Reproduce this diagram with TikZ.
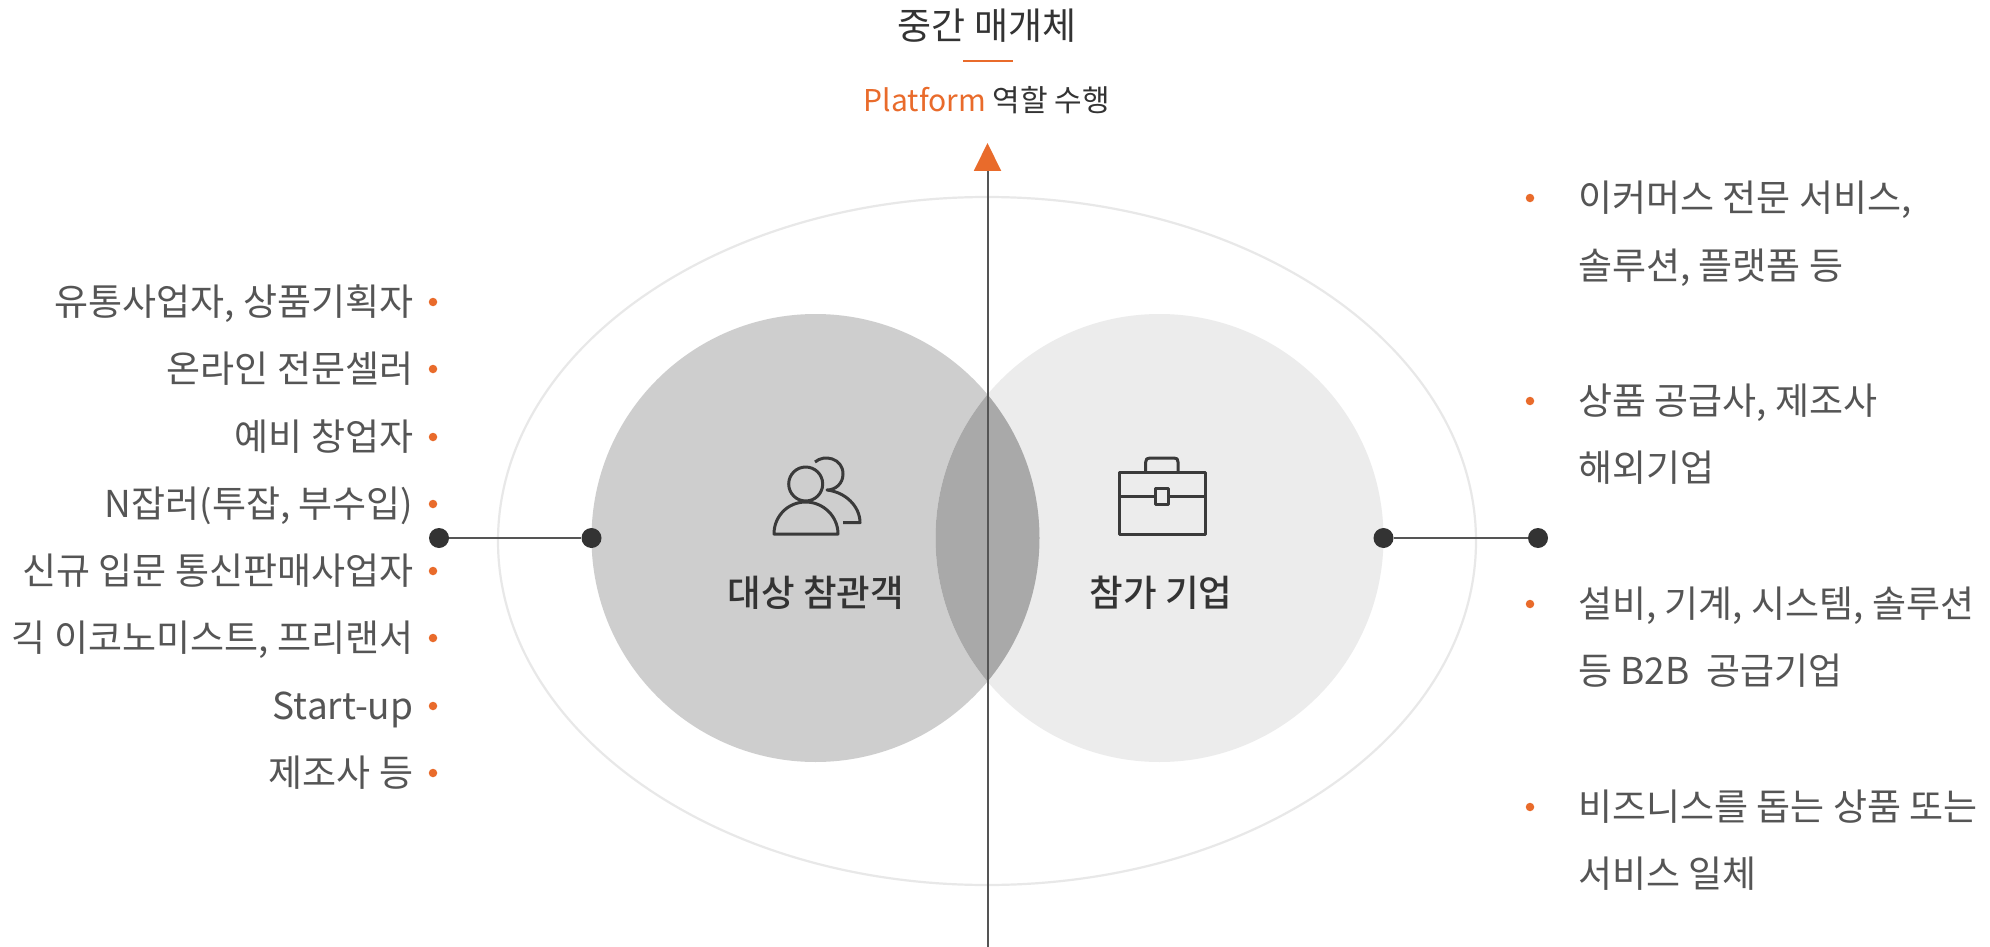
\documentclass[tikz,border=0pt]{standalone}
\usepackage{fontspec}
\setmainfont{Noto Sans CJK KR}
\newfontface\krmed{Noto Sans CJK KR Medium}
\usetikzlibrary{arrows.meta}
\definecolor{acc}{HTML}{E96B2B}
\definecolor{txt}{HTML}{555555}
\definecolor{dk}{HTML}{333333}
\definecolor{cl}{HTML}{555555}
\definecolor{lc}{HTML}{CECECE}
\definecolor{rc}{HTML}{ECECEC}
\definecolor{ov}{HTML}{A9A9A9}
\definecolor{ring}{HTML}{E8E8E8}
\definecolor{ic}{HTML}{3A3A3A}
\tikzset{
 x=1pt,y=-1pt,
 ltext/.style={anchor=base east,inner sep=0pt,text=txt,font=\fontsize{37}{37}\selectfont},
 rtext/.style={anchor=base west,inner sep=0pt,text=txt,font=\fontsize{37}{37}\selectfont},
 bul/.style={circle,fill=acc,draw=none,minimum size=8.5pt,inner sep=0pt},
 dot/.style={circle,fill=dk,draw=none,minimum size=20pt,inner sep=0pt},
 conn/.style={draw=cl,line width=1.6pt},
 icon/.style={draw=ic,line width=3pt,line join=round},
 title/.style={inner sep=0pt,anchor=base,text=dk},
}
\begin{document}
\begin{tikzpicture}
\useasboundingbox (0,0) rectangle (1990,947);
\fill[white] (0,0) rectangle (1990,947);
% ring and circles
\draw[ring,line width=2.2pt] (987,541) ellipse [x radius=489,y radius=344];
\fill[lc] (815.5,538) circle [radius=224];
\fill[rc] (1159.5,538) circle [radius=224];
\begin{scope}
\clip (815.5,538) circle [radius=224];
\fill[ov] (1159.5,538) circle [radius=224];
\end{scope}
% axis
\coordinate (axb) at (987.5,947);
\coordinate (axt) at (987.5,143);
\draw[draw=cl,line width=2pt,-{Triangle[color=acc,length=28pt,width=27pt]}] (axb) -- (axt);
% top
\node[title,font=\fontsize{37}{37}\selectfont] (t1) at (987,40) {중간 매개체};
\coordinate (dl) at (963,61); \coordinate (dr) at (1013,61);
\draw[acc,line width=1.6pt] (dl) -- (dr);
\node[title,font=\fontsize{30}{30}\selectfont] (t2) at (987,112) {\textcolor{acc}{Platform} 역할 수행};
% left list
\foreach \n/\y/\s in {a/302/유통사업자{,} 상품기획자,b/369/온라인 전문셀러,c/437/예비 창업자,d/504/N잡러(투잡{,} 부수입),e/571/신규 입문 통신판매사업자,f/638/긱 이코노미스트{,} 프리랜서,g/706/Start-up,h/773/제조사 등}{
 \node[ltext] (L\n) at (413.5,\y+13.5) {\s};
 \node[bul] (B\n) at (433,\y) {};
}
% right list
\foreach \n/\y/\s in {a/198/이커머스 전문 서비스{,},b/266/솔루션{,} 플랫폼 등,c/401/상품 공급사{,} 제조사,d/468/해외기업,e/604/설비{,} 기계{,} 시스템{,} 솔루션,f/671/등 B2B\ \ 공급기업,g/807/비즈니스를 돕는 상품 또는,h/874/서비스 일체}{
 \node[rtext] (R\n) at (1578,\y+13.5) {\s};
}
\foreach \n/\y in {a/198,c/401,e/604,g/807}{\node[bul] (RB\n) at (1530,\y) {};}
% connectors
\node[dot] (d1) at (439,538) {};
\node[dot] (d2) at (591.5,538) {};
\node[dot] (d3) at (1383.5,538) {};
\node[dot] (d4) at (1538,538) {};
\draw[conn] (d1) -- (d2);
\draw[conn] (d3) -- (d4);
% circle labels
\node[title,font=\krmed\fontsize{36.5}{36.5}\selectfont] (lab1) at (816,606.5) {대상 참관객};
\node[title,font=\krmed\fontsize{36.5}{36.5}\selectfont] (lab2) at (1161,606.5) {참가 기업};
% people icon
\draw[icon] (805.7,484) circle [radius=17];
\draw[icon] (774,534) .. controls (774,516) and (788,502) .. (805.7,502) .. controls (823,502) and (838,516) .. (838,534) -- cycle;
\draw[icon] (815,462) .. controls (824,454) and (843,458) .. (843,474) .. controls (843,484) and (835,490) .. (827,490) .. controls (845,492) and (860,506) .. (860,522.7) -- (843,522.7);
% briefcase icon
\draw[icon] (1119,472) rectangle (1205.7,534);
\draw[icon] (1145.7,472) -- (1145.7,462) .. controls (1145.7,459) and (1147,458) .. (1150,458) -- (1174,458) .. controls (1177,458) and (1178,459) .. (1178,462) -- (1178,472);
\draw[icon] (1119,496) -- (1155.7,496) (1168,496) -- (1205.7,496);
\draw[icon] (1155.7,488) rectangle (1168,504);
\end{tikzpicture}
\end{document}
